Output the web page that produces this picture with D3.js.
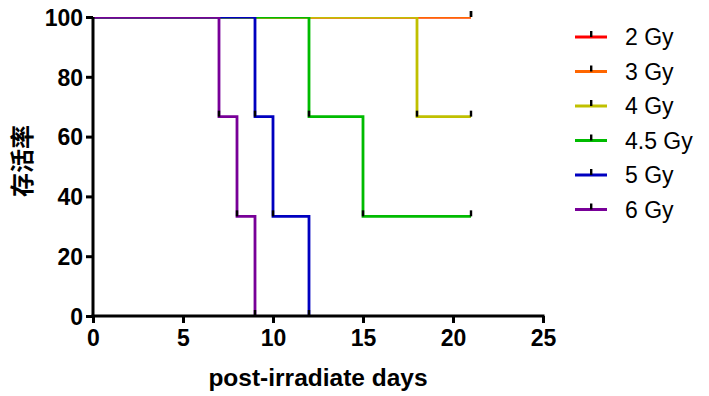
<!DOCTYPE html>
<html>
<head>
<meta charset="utf-8">
<script src="https://cdn.jsdelivr.net/npm/d3@7"></script>
<style>
  body { margin: 0; background: #fff; }
  svg { display: block; }
</style>
</head>
<body>
<script>
// dati (giorni, sopravvivenza %)
var groups = ["2 Gy", "3 Gy", "4 Gy", "4.5 Gy", "5 Gy", "6 Gy"];
var colors = ["#ff0000", "#ff6600", "#c0c000", "#00bb00", "#0000c0", "#780098"];
var days = [
  [0, 21],
  [0, 21],
  [0, 18, 21],
  [0, 12, 15, 21],
  [0, 9, 10, 12],
  [0, 7, 8, 9]
];
var survival = [
  [100, 100],
  [100, 100],
  [100, 66.67, 66.67],
  [100, 66.67, 33.33, 33.33],
  [100, 66.67, 33.33, 0],
  [100, 66.67, 33.33, 0]
];
var xTicks = [0, 5, 10, 15, 20, 25];
var yTicks = [0, 20, 40, 60, 80, 100];

var width = 709, height = 396;
var pLeft = 93, pRight = 543, pTop = 17, pBottom = 316;

var svg = d3.select("body").append("svg")
    .attr("width", width)
    .attr("height", height);

var x = d3.scaleLinear().domain([0, 25]).range([pLeft, pRight]);
var y = d3.scaleLinear().domain([0, 100]).range([pBottom, pTop]);

svg.append("defs").append("clipPath").attr("id", "plot")
  .append("rect")
    .attr("x", pLeft).attr("y", pTop)
    .attr("width", pRight - pLeft + 20).attr("height", pBottom - pTop);

// CURVE A GRADINI
var line = d3.line()
    .x(function(d) { return x(d[0]); })
    .y(function(d) { return y(d[1]); })
    .curve(d3.curveStepAfter);

groups.forEach(function(g, i) {
  var pts = days[i].map(function(d, j) { return [d, survival[i][j]]; });
  svg.append("path")
    .attr("d", line(pts))
    .attr("fill", "none")
    .attr("stroke", colors[i])
    .attr("stroke-width", 2.8)
    .attr("clip-path", "url(#plot)");
});

// MARCATORI (piccole tacche nere)
groups.forEach(function(g, i) {
  days[i].forEach(function(d, j) {
    if (j === 0) return;
    svg.append("rect")
      .attr("x", x(d) - 1.2)
      .attr("y", y(survival[i][j]) - 6)
      .attr("width", 2.4)
      .attr("height", 6)
      .attr("fill", "black");
  });
});

// ASSI
var xAxis = svg.append("g")
    .attr("transform", "translate(0," + pBottom + ")")
    .call(d3.axisBottom(x).tickValues(xTicks).tickSize(7).tickPadding(7));

var yAxis = svg.append("g")
    .attr("transform", "translate(" + pLeft + ",0)")
    .call(d3.axisLeft(y).tickValues(yTicks).tickSize(7).tickPadding(3));

[xAxis, yAxis].forEach(function(a) {
  a.select(".domain").attr("stroke", "black").attr("stroke-width", 3);
  a.selectAll(".tick line").attr("stroke", "black").attr("stroke-width", 3);
  a.selectAll(".tick text")
    .attr("fill", "black")
    .attr("font-family", "Liberation Sans, Arial, sans-serif")
    .attr("font-weight", "bold")
    .attr("font-size", "23px");
});
xAxis.select(".domain").attr("d", "M" + (pLeft - 1.5) + ",0H" + (pRight + 1.5));
yAxis.select(".domain").attr("d", "M0," + pTop + "V" + (pBottom + 1.5));
yAxis.selectAll(".tick text").attr("dy", "0.36em");

// TITOLI ASSI
svg.append("text")
    .attr("x", (pLeft + pRight) / 2)
    .attr("y", 386)
    .attr("text-anchor", "middle")
    .attr("font-family", "Liberation Sans, Arial, sans-serif")
    .attr("font-weight", "bold")
    .attr("font-size", "24.5px")
    .text("post-irradiate days");

svg.append("text")
    .attr("transform", "translate(31,161) rotate(-90)")
    .attr("text-anchor", "middle")
    .attr("font-family", "Noto Sans CJK SC, sans-serif")
    .attr("font-weight", "bold")
    .attr("font-size", "24px")
    .text("存活率");

// LEGENDA
var legend = svg.append("g");
groups.forEach(function(g, i) {
  var ly = 37 + i * 34.5;
  legend.append("line")
    .attr("x1", 575).attr("x2", 607)
    .attr("y1", ly).attr("y2", ly)
    .attr("stroke", colors[i])
    .attr("stroke-width", 3);
  legend.append("rect")
    .attr("x", 590).attr("y", ly - 6)
    .attr("width", 2.4).attr("height", 6)
    .attr("fill", "black");
  legend.append("text")
    .attr("x", 625).attr("y", ly + 8)
    .attr("font-family", "Liberation Sans, Arial, sans-serif")
    .attr("font-size", "23px")
    .attr("fill", "black")
    .text(g);
});
</script>
</body>
</html>
